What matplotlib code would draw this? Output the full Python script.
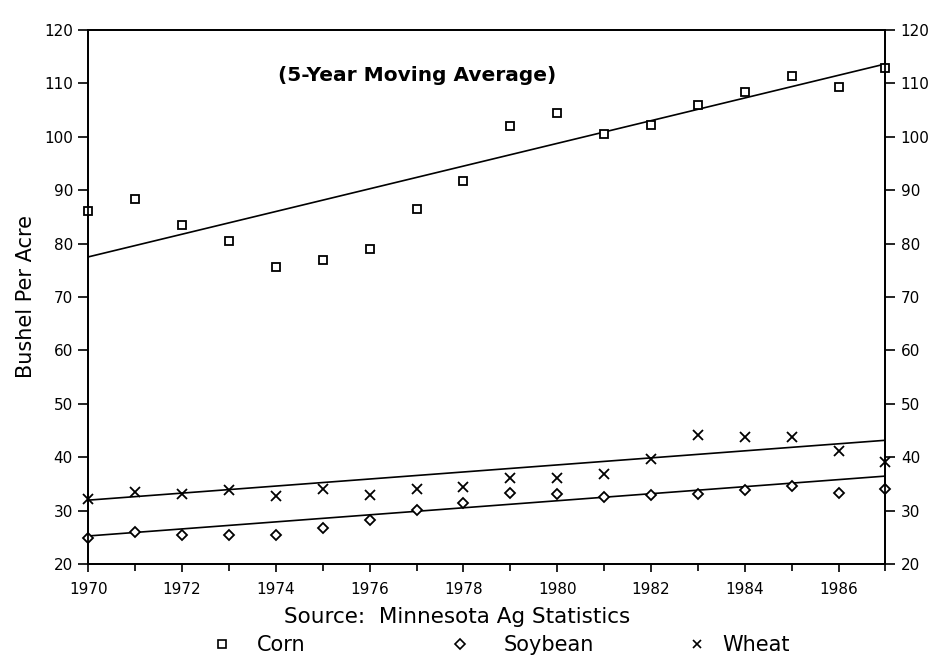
import matplotlib
matplotlib.use('Agg')
import matplotlib.pyplot as plt
from matplotlib.lines import Line2D
from matplotlib.ticker import MultipleLocator

years = list(range(1970, 1988))

# 5-year moving average yields, bushel per acre
corn = [86.0, 88.3, 83.4, 80.5, 75.6, 76.9, 79.0, 86.5, 91.7, 102.0,
        104.5, 100.5, 102.2, 106.0, 108.4, 111.3, 109.2, 112.9]
soybean = [24.9, 26.0, 25.5, 25.5, 25.5, 26.8, 28.3, 30.2, 31.4, 33.4,
           33.2, 32.5, 32.9, 33.1, 33.9, 34.6, 33.3, 34.1]
wheat = [32.2, 33.5, 33.2, 33.9, 32.8, 34.1, 33.0, 34.1, 34.5, 36.1,
         36.1, 36.8, 39.7, 44.2, 43.8, 43.9, 41.2, 39.1]

# trend lines, value at 1970 and 1987
trend_years = [1970, 1987]
corn_trend = [77.5, 113.6]
soybean_trend = [25.3, 36.5]
wheat_trend = [32.0, 43.2]

plt.rcParams['font.family'] = 'DejaVu Sans'

fig = plt.figure(figsize=(9.39, 6.6), dpi=100)
ax = fig.add_axes([0.094, 0.145, 0.849, 0.81])

mk = dict(linestyle='none', color='black', markerfacecolor='white', clip_on=False, zorder=3)
ax.plot(years, corn, marker='s', markersize=6, markeredgewidth=1.3, **mk)
ax.plot(years, soybean, marker='D', markersize=5, markeredgewidth=1.3, **mk)
ax.plot(years, wheat, marker='x', markersize=7, markeredgewidth=1.3, **mk)

ax.plot(trend_years, corn_trend, color='black', lw=1.2)
ax.plot(trend_years, soybean_trend, color='black', lw=1.2)
ax.plot(trend_years, wheat_trend, color='black', lw=1.2)

ax.set_xlim(1970, 1987)
ax.set_ylim(20, 120)
ax.xaxis.set_major_locator(MultipleLocator(2))
ax.xaxis.set_minor_locator(MultipleLocator(1))
ax.yaxis.set_major_locator(MultipleLocator(10))
for s in ['top', 'bottom', 'left', 'right']:
    ax.spines[s].set_linewidth(1.3)
ax.tick_params(axis='both', which='both', direction='out', width=1.2, labelsize=11)
ax.tick_params(axis='x', which='major', length=6, pad=7)
ax.tick_params(axis='x', which='minor', length=5)
ax.tick_params(axis='y', length=7, pad=4)

ax2 = ax.twinx()
ax2.set_ylim(20, 120)
ax2.yaxis.set_major_locator(MultipleLocator(10))
ax2.tick_params(axis='y', direction='out', length=7, width=1.2, labelsize=11, pad=4)
for s in ['top', 'bottom', 'left', 'right']:
    ax2.spines[s].set_linewidth(1.3)

ax.set_ylabel('Bushel Per Acre', fontsize=15, labelpad=6)
ax.text(0.413, 0.915, '(5-Year Moving Average)', transform=ax.transAxes,
        ha='center', va='center', fontsize=14.5, fontweight='bold')

fig.text(0.487, 0.065, 'Source:  Minnesota Ag Statistics', ha='center', va='center', fontsize=15.5)

# legend entries placed one by one, as in the original
entries = [
    (Line2D([], [], ls='none', marker='s', markersize=6, mfc='white', mec='black', mew=1.2), 'Corn', 0.214, 1.2),
    (Line2D([], [], ls='none', marker='D', markersize=5, mfc='white', mec='black', mew=1.2), 'Soybean', 0.468, 1.6),
    (Line2D([], [], ls='none', marker='x', markersize=6, color='black', mew=1.2), 'Wheat', 0.720, 0.7),
]
for h, lab, xpos, gap in entries:
    fig.legend([h], [lab], loc='center left', bbox_to_anchor=(xpos, 0.022), frameon=False,
               fontsize=15, borderpad=0, handlelength=1.0, handletextpad=gap)

fig.savefig('out.png', dpi=100)
